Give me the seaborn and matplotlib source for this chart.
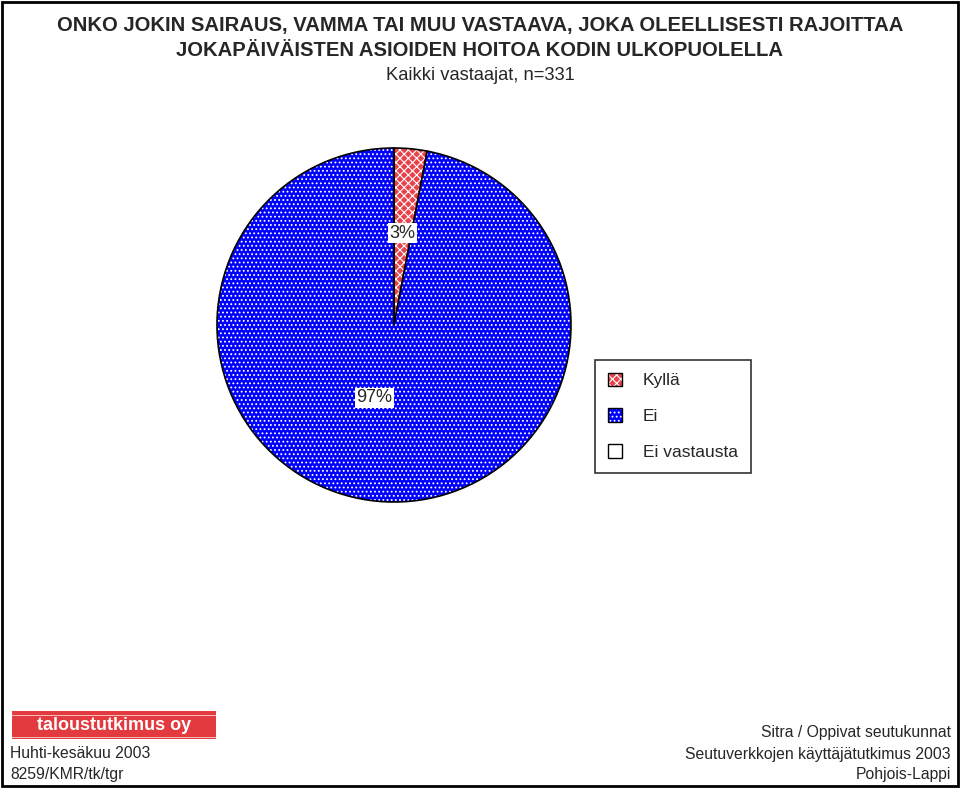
import matplotlib.pyplot as plt
import matplotlib.patches as mpatches
import seaborn as sns

categories = ["Kyllä", "Ei", "Ei vastausta"]
shares = [3, 97, 0]
pct_labels = ["3%", "97%", ""]
colors = ["#e8424a", "#0000ff", "#ffffff"]
hatches = ["xxxx", "....", ""]

title_lines = [
    "ONKO JOKIN SAIRAUS, VAMMA TAI MUU VASTAAVA, JOKA OLEELLISESTI RAJOITTAA",
    "JOKAPÄIVÄISTEN ASIOIDEN HOITOA KODIN ULKOPUOLELLA",
]
subtitle = "Kaikki vastaajat, n=331"
footer_left = ["Huhti-kesäkuu 2003", "8259/KMR/tk/tgr"]
footer_right = ["Sitra / Oppivat seutukunnat", "Seutuverkkojen käyttäjätutkimus 2003", "Pohjois-Lappi"]
logo_text = "taloustutkimus oy"

sns.set_theme(style="white")
plt.rcParams["font.family"] = ["Liberation Sans", "DejaVu Sans"]
plt.rcParams["hatch.linewidth"] = 0.8

fig = plt.figure(figsize=(9.6, 7.88), dpi=100)
fig.patch.set_facecolor("white")

# outer frame
fig.add_artist(mpatches.Rectangle((0.002, 0.002), 0.996, 0.996, transform=fig.transFigure,
                                  fill=False, edgecolor="black", linewidth=2))

# titles
fig.text(0.5, 1 - 26 / 788, title_lines[0], ha="center", va="center", fontsize=14.6,
         fontweight="bold")
fig.text(0.5, 1 - 51 / 788, title_lines[1], ha="center", va="center", fontsize=14.6,
         fontweight="bold")
fig.text(0.5, 1 - 75 / 788, subtitle, ha="center", va="center", fontsize=13.2)

# pie
r_px = 177
cx, cy = 394, 325
ax = fig.add_axes([(cx - r_px) / 960, 1 - (cy + r_px) / 788, 2 * r_px / 960, 2 * r_px / 788])
wedges, texts, autotexts = ax.pie(
    shares, colors=colors, startangle=90, counterclock=False,
    wedgeprops=dict(edgecolor="black", linewidth=1.2),
    autopct=lambda p: "", pctdistance=0.52, radius=1,
)
for w, h in zip(wedges, hatches):
    w.set_hatch(h)
    w._hatch_color = (1, 1, 1, 1)
for t, lab in zip(autotexts, pct_labels):
    t.set_text(lab)
    t.set_fontsize(13)
    t.set_bbox(dict(facecolor="white", edgecolor="none", pad=1))
autotexts[1].set_position((-0.11, -0.41))
ax.set_xlim(-1, 1)
ax.set_ylim(-1, 1)
ax.set_aspect("auto")
ax.axis("off")

# legend
handles = [mpatches.Patch(facecolor=c, edgecolor="black", hatch=h, label=l, linewidth=1)
           for c, h, l in zip(colors, hatches, categories)]
leg = fig.legend(handles=handles, loc="upper left", bbox_to_anchor=(595 / 960, 1 - 360 / 788),
                 fontsize=12.5, frameon=True, fancybox=False, edgecolor="black",
                 handlelength=0.85, handleheight=0.85, handletextpad=1.2,
                 labelspacing=1.15, borderpad=0.72, borderaxespad=0)
leg.get_frame().set_linewidth(1.2)
for p in leg.get_patches():
    p._hatch_color = (1, 1, 1, 1)

# logo
logo = fig.add_axes([12 / 960, 1 - 739 / 788, 204 / 960, 28 / 788])
logo.set_xlim(0, 1)
logo.set_ylim(0, 28)
logo.axis("off")
logo.add_patch(mpatches.Rectangle((0, 25.5), 1, 2.5, color="#e23a3f"))
logo.add_patch(mpatches.Rectangle((0, 3.5), 1, 20, color="#e23a3f"))
logo.add_patch(mpatches.Rectangle((0, 0), 1, 1.5, color="#e23a3f"))
logo.text(0.5, 13.5, logo_text, ha="center", va="center", color="white",
          fontsize=13, fontweight="bold")

# footers
for i, s in enumerate(footer_left):
    fig.text(10 / 960, 1 - (753 + 22 * i) / 788, s, ha="left", va="center", fontsize=11.3)
for i, s in enumerate(footer_right):
    fig.text(951 / 960, 1 - (733 + 21 * i) / 788, s, ha="right", va="center", fontsize=11.3)

fig.savefig("out.png", dpi=100)
